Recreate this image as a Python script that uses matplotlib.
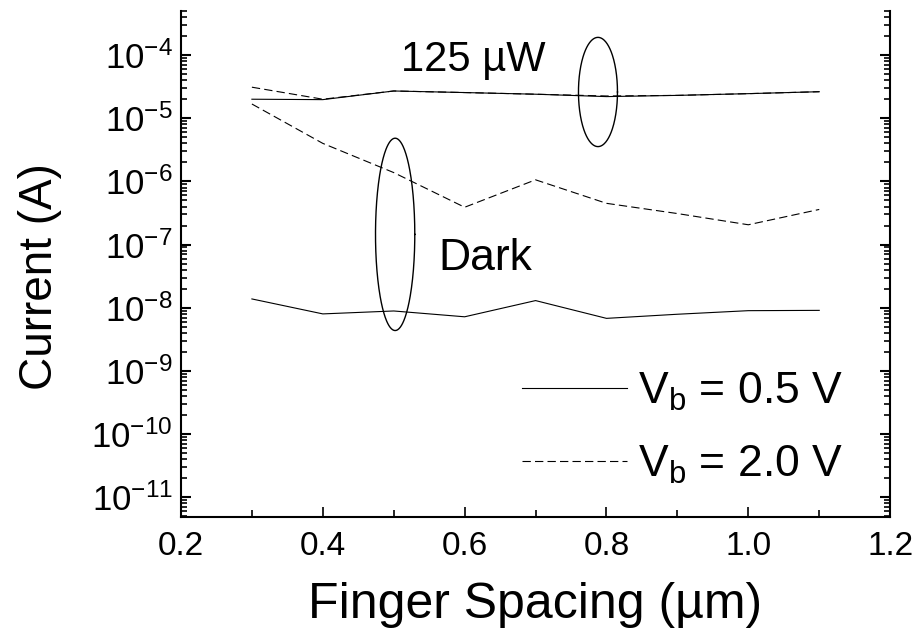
import numpy as np
import matplotlib
matplotlib.use('Agg')
import matplotlib.pyplot as plt
from matplotlib.ticker import FixedLocator, LogLocator, NullFormatter, FuncFormatter

plt.rcParams['font.family'] = ['Liberation Sans', 'DejaVu Sans']
plt.rcParams['mathtext.fontset'] = 'custom'
plt.rcParams['mathtext.rm'] = 'Liberation Sans'
plt.rcParams['mathtext.it'] = 'Liberation Sans'
plt.rcParams['lines.scale_dashes'] = False

# finger spacing (um)
spacing = [0.3, 0.4, 0.5, 0.6, 0.7, 0.8, 0.9, 1.0, 1.1]

# illuminated, 125 uW
light_05 = [2.0e-5, 1.97e-5, 2.7e-5, 2.55e-5, 2.4e-5, 2.2e-5, 2.3e-5, 2.45e-5, 2.63e-5]
light_20 = [3.1e-5, 2.0e-5, 2.7e-5, 2.55e-5, 2.4e-5, 2.25e-5, 2.3e-5, 2.45e-5, 2.63e-5]

# dark
dark_05 = [1.38e-8, 8.0e-9, 8.9e-9, 7.2e-9, 1.3e-8, 6.8e-9, 7.9e-9, 9.0e-9, 9.1e-9]
dark_20 = [1.68e-5, 4.0e-6, 1.38e-6, 3.9e-7, 1.06e-6, 4.5e-7, 3.1e-7, 2.06e-7, 3.6e-7]

fig = plt.figure(figsize=(9.21, 6.41), dpi=100)
ax = fig.add_axes([0.1965, 0.193, 0.77, 0.79])

lw = 0.8
dash = (0, (6, 3))
ax.plot(spacing, dark_05, color='black', lw=lw, label=r'V$_\mathregular{b}$ = 0.5 V')
ax.plot(spacing, dark_20, color='black', lw=lw, ls=dash, label=r'V$_\mathregular{b}$ = 2.0 V')
ax.plot(spacing, light_05, color='black', lw=lw)
ax.plot(spacing, light_20, color='black', lw=lw, ls=dash)

# ellipses grouping the curves (x linear, y in decades)
t = np.linspace(0, 2 * np.pi, 300)
for cx, hw, lo, hi in [(0.788, 0.0275, -5.449, -3.72), (0.502, 0.0277, -8.36, -5.316)]:
    cy = (lo + hi) / 2
    hh = (hi - lo) / 2
    ax.plot(cx + hw * np.cos(t), 10 ** (cy + hh * np.sin(t)), color='black', lw=1.0)

ax.text(0.51, 5.5e-5, '125 µW', fontsize=30, ha='left', va='baseline')
ax.text(0.563, 4.0e-8, 'Dark', fontsize=32, ha='left', va='baseline')

ax.set_yscale('log')
ax.set_xlim(0.2, 1.2)
ax.set_ylim(4.83e-12, 5e-4)

ax.xaxis.set_major_locator(FixedLocator([0.2, 0.4, 0.6, 0.8, 1.0, 1.2]))
ax.xaxis.set_minor_locator(FixedLocator([0.3, 0.5, 0.7, 0.9, 1.1]))
ax.xaxis.set_major_formatter(FuncFormatter(lambda v, p: '%.1f' % v))
ax.yaxis.set_major_locator(FixedLocator([10.0 ** k for k in range(-11, -3)]))
ax.yaxis.set_minor_locator(LogLocator(base=10, subs=np.arange(2, 10), numticks=30))
ax.yaxis.set_minor_formatter(NullFormatter())
ax.yaxis.set_major_formatter(FuncFormatter(lambda v, p: r'$\mathregular{10^{%d}}$' % round(np.log10(v))))

ax.spines['top'].set_visible(False)
for s in ['left', 'right', 'bottom']:
    ax.spines[s].set_linewidth(1.5)

ax.tick_params(axis='x', which='major', direction='in', length=7, width=1.2, labelsize=24, pad=10)
ax.tick_params(axis='x', which='minor', direction='in', length=5, width=1.2)
ax.tick_params(axis='y', which='major', direction='in', length=7, width=1.5, labelsize=25,
               right=True, pad=6)
ax.tick_params(axis='y', which='minor', direction='in', length=4, width=1.2, right=True)

ax.set_xlabel('Finger Spacing (µm)', fontsize=36, labelpad=14)
ax.set_ylabel('Current (A)', fontsize=33)
ax.yaxis.set_label_coords(-0.168, 0.476)

ax.legend(loc='lower right', bbox_to_anchor=(0.99, -0.017), frameon=False, fontsize=32,
          handlelength=2.35, handletextpad=0.25, labelspacing=0.7)

fig.savefig('out.png', dpi=100)
